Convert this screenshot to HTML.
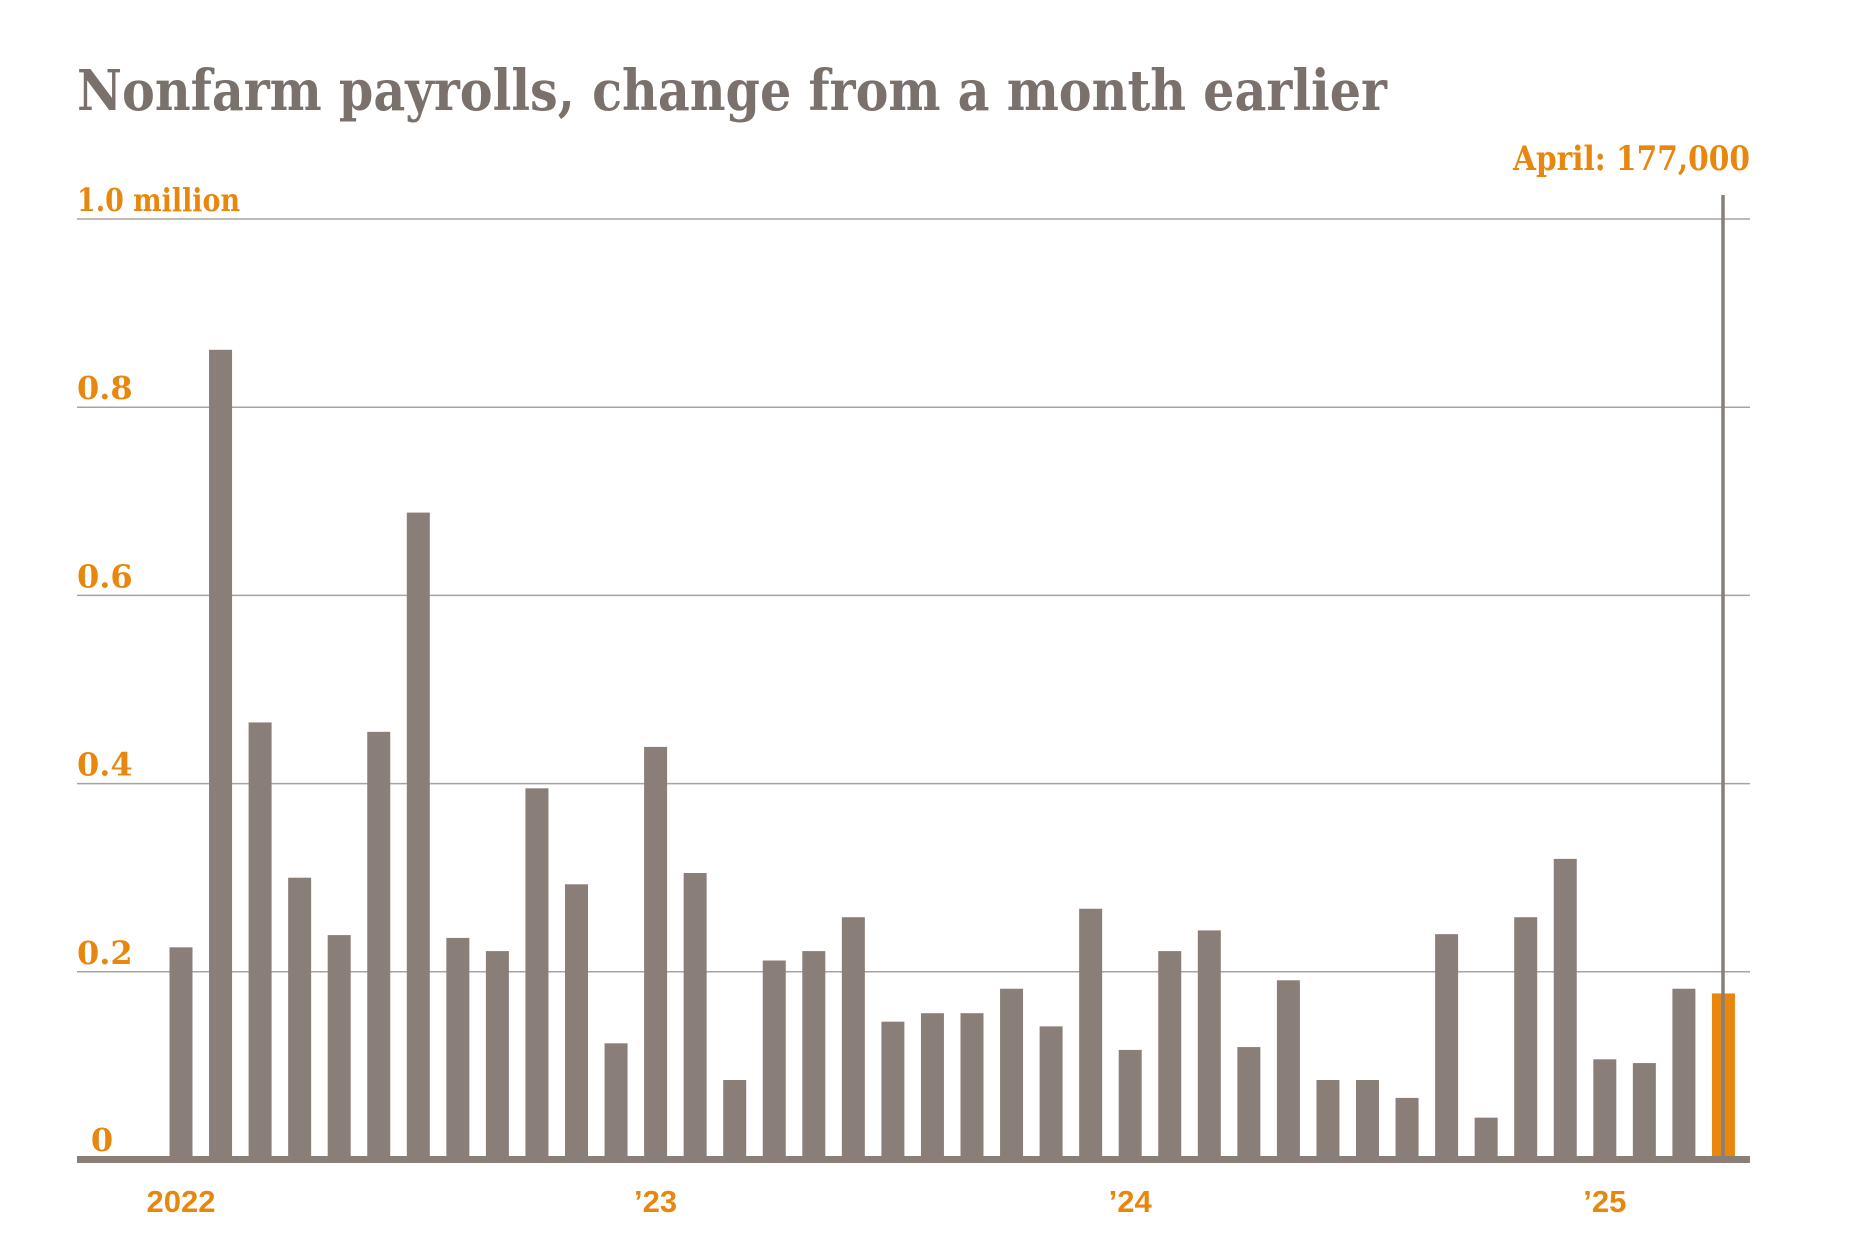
<!DOCTYPE html>
<html><head><meta charset="utf-8"><style>
html,body{margin:0;padding:0;background:#fff;}
svg{display:block;}
.slab{font-family:"DejaVu Serif","Liberation Serif",serif;font-weight:bold;}
.sans{font-family:"Liberation Sans",sans-serif;font-weight:bold;}
</style></head><body>
<svg id="chart" width="1854" height="1250" viewBox="0 0 1854 1250" xmlns="http://www.w3.org/2000/svg">
<text class="slab" x="77" y="110" font-size="56" fill="#7b716c" textLength="1310" lengthAdjust="spacingAndGlyphs">Nonfarm payrolls, change from a month earlier</text>
<g id="grid"></g>
<g id="ylabels"></g>
<g id="bars"></g>
<g id="xlabels"></g>
<rect x="77" y="1156" width="1673" height="7" fill="#8a7f78"/>
<line id="marker" x1="1723" x2="1723" y1="195" y2="1157" stroke="#8a7f78" stroke-width="3.5"/>
<text class="slab" x="1750" y="170" font-size="34" fill="#e8870e" text-anchor="end" textLength="237" lengthAdjust="spacingAndGlyphs">April: 177,000</text>
</svg>
<script>
const values = [0.226,0.861,0.465,0.30,0.239,0.455,0.688,0.236,0.222,0.395,0.293,0.124,0.439,0.305,0.085,0.212,0.222,0.258,0.147,0.156,0.156,0.182,0.142,0.267,0.117,0.222,0.244,0.12,0.191,0.085,0.085,0.066,0.240,0.045,0.258,0.32,0.107,0.103,0.182,0.177];
const yTicks = [0,0.2,0.4,0.6,0.8,1.0];
const yTickLabels = ["0","0.2","0.4","0.6","0.8","1.0 million"];
const xLabelIndex = [0,12,24,36];
const xLabels = ["2022","\u201923","\u201924","\u201925"];

const NS="http://www.w3.org/2000/svg";
const y0=1160, y1=219, x0=181, pitch=39.55, bw=23;
function yScale(v){return y0-(y0-y1)*v;}
function xScale(i){return x0+pitch*i;}
function mk(tag,attrs,parent){const e=document.createElementNS(NS,tag);for(const k in attrs)e.setAttribute(k,attrs[k]);parent.appendChild(e);return e;}
const grid=document.getElementById('grid'),yl=document.getElementById('ylabels'),bars=document.getElementById('bars'),xl=document.getElementById('xlabels');
yTicks.forEach((t,i)=>{
  if(t>0){const l=mk('line',{x1:77,x2:1750,y1:yScale(t),y2:yScale(t),stroke:'#a8a3a0','stroke-width':1.5},grid);
  
  }
  const tx=mk('text',{x:t===0?102:77,y:t===0?1151:yScale(t)-8,'font-size':32,fill:'#e8870e',class:'slab','text-anchor':t===0?'middle':'start'},yl);
  tx.textContent=yTickLabels[i];
  if(t===1.0){tx.setAttribute('textLength','163');tx.setAttribute('lengthAdjust','spacingAndGlyphs');}
  
  
});
values.forEach((v,i)=>{
  const last=i===values.length-1;
  const r=mk('rect',{x:xScale(i)-bw/2,y:yScale(v),width:bw,height:y0-yScale(v),fill:last?'#e8870e':'#8a7f78'},bars);
  
  
});
xLabelIndex.forEach((idx,i)=>{
  const t=mk('text',{x:xScale(idx),y:1212,'font-size':31,fill:'#e8870e',class:'sans','text-anchor':'middle'},xl);
  t.textContent=xLabels[i];
  
  
});
</script>
</body></html>
